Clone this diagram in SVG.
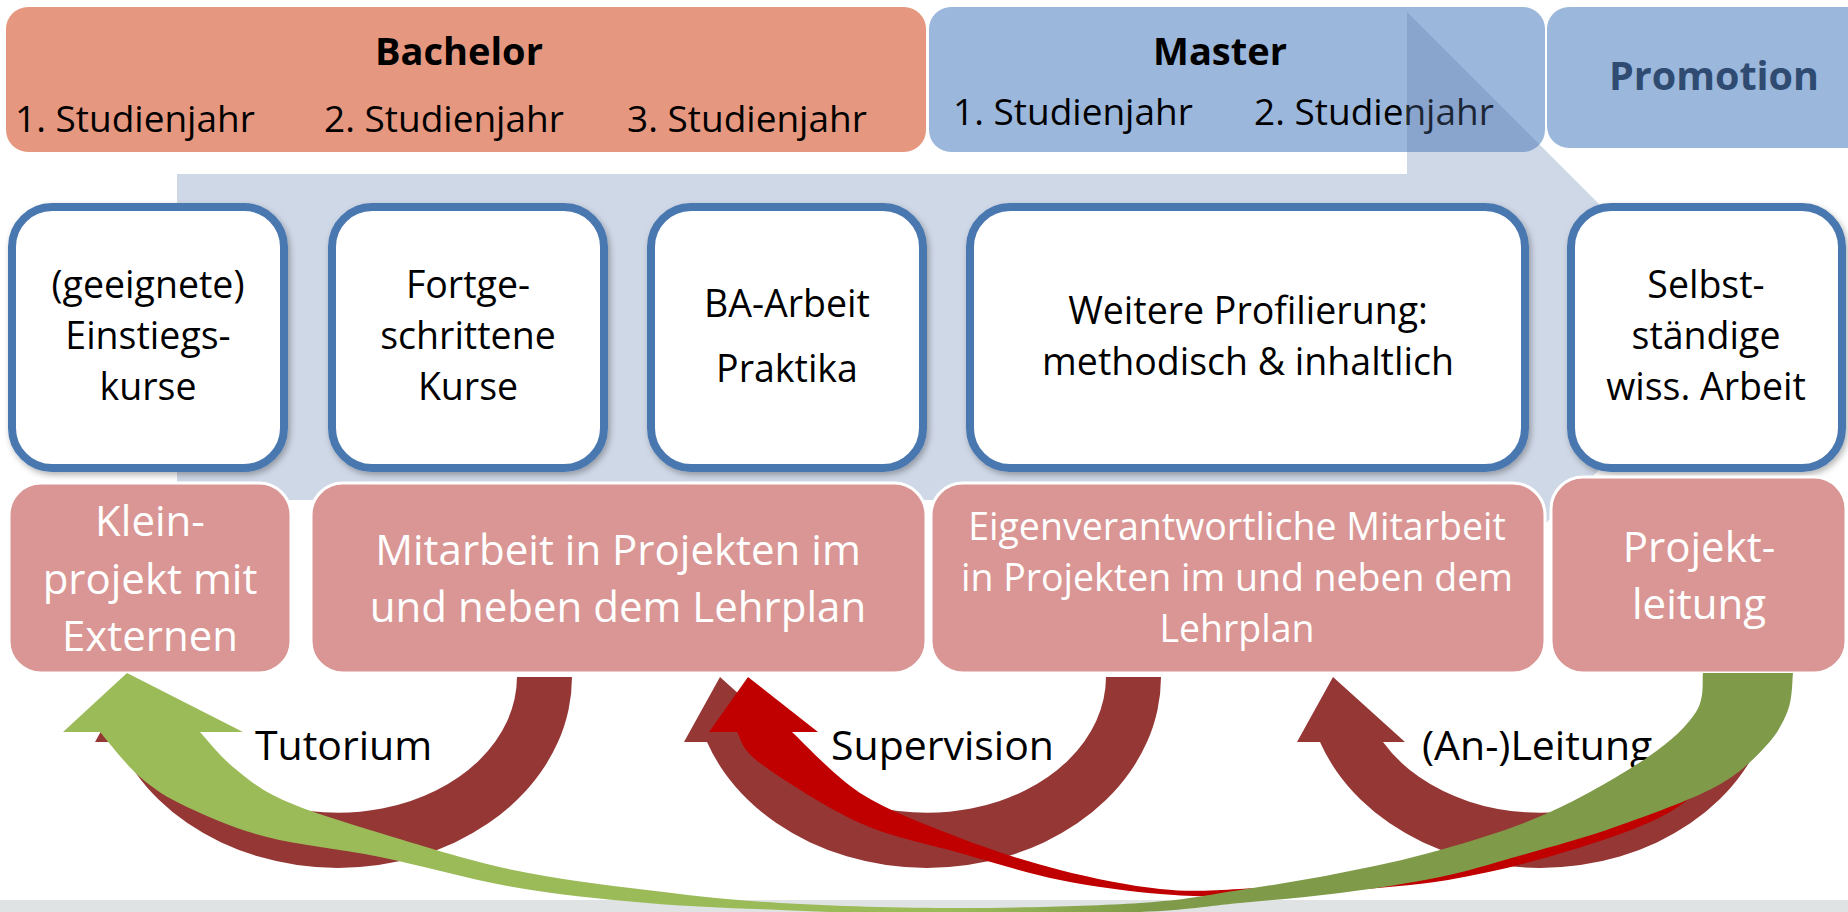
<svg xmlns="http://www.w3.org/2000/svg" width="1848" height="912" viewBox="0 0 1848 912">
<style>
text{font-family:"Open Sans","Liberation Sans",sans-serif;fill:#000}
.hb{font-size:38px;font-weight:bold}
.hy{font-size:37px}
.w{font-size:37.5px;text-anchor:middle}
.p{font-size:42px;fill:#fff;text-anchor:middle}
.e{font-size:37.5px;fill:#fff;text-anchor:middle}
.l{font-size:41px}
.wbox{fill:#fff;stroke:#4A77AF;stroke-width:8}
.pbox{fill:#D99694;stroke:#fff;stroke-width:3}
.dr{fill:#953735}
</style>
<defs>
<filter id="sh" x="-10%" y="-10%" width="120%" height="120%">
<feDropShadow dx="2" dy="3" stdDeviation="3" flood-color="#000" flood-opacity="0.3"/>
</filter>
<linearGradient id="gg" gradientUnits="userSpaceOnUse" x1="950" y1="0" x2="1150" y2="0">
<stop offset="0" stop-color="#9BBB59"/>
<stop offset="1" stop-color="#7F9A48"/>
</linearGradient>
</defs>
<rect x="0" y="0" width="1848" height="912" fill="#fff"/>
<rect x="0" y="900" width="1848" height="12" fill="#DFE3E3"/>

<g id="bachelor">
<rect x="6" y="7" width="920" height="145" rx="22" fill="#E5987F"/>
<text class="hb" x="459" y="65" text-anchor="middle">Bachelor</text>
<text class="hy" x="15" y="132">1. Studienjahr</text>
<text class="hy" x="324" y="132">2. Studienjahr</text>
<text class="hy" x="627" y="132">3. Studienjahr</text>
</g>
<g id="master">
<rect x="929" y="7" width="616" height="145" rx="22" fill="#9BB7DB"/>
<text class="hb" x="1220" y="65" text-anchor="middle">Master</text>
<text class="hy" x="953" y="125">1. Studienjahr</text>
<text class="hy" x="1254" y="125">2. Studienjahr</text>
</g>
<g id="promotion">
<rect x="1547" y="7" width="330" height="141" rx="22" fill="#9BB7DB"/>
<text class="hb" x="1714" y="90" text-anchor="middle" style="fill:#2F4B71;font-size:39.5px">Promotion</text>
</g>

<g id="band">
<polygon points="177,174 1407,174 1407,12 1732,337 1407,662 1407,500 177,500" fill="#5F7DAF" fill-opacity="0.3"/>
</g>

<g id="box-einstieg">
<rect class="wbox" x="12" y="207" width="272" height="261" rx="40" filter="url(#sh)"/>
<text class="w"><tspan x="148" y="298">(geeignete)</tspan><tspan x="148" y="349">Einstiegs-</tspan><tspan x="148" y="400">kurse</tspan></text>
</g>
<g id="box-fortgeschritten">
<rect class="wbox" x="332" y="207" width="272" height="261" rx="40" filter="url(#sh)"/>
<text class="w"><tspan x="468" y="298">Fortge-</tspan><tspan x="468" y="349">schrittene</tspan><tspan x="468" y="400">Kurse</tspan></text>
</g>
<g id="box-ba">
<rect class="wbox" x="651" y="207" width="272" height="261" rx="40" filter="url(#sh)"/>
<text class="w"><tspan x="787" y="317">BA-Arbeit</tspan><tspan x="787" y="382">Praktika</tspan></text>
</g>
<g id="box-profil">
<rect class="wbox" x="970" y="207" width="555" height="261" rx="40" filter="url(#sh)"/>
<text class="w"><tspan x="1248" y="324">Weitere Profilierung:</tspan><tspan x="1248" y="375">methodisch &amp; inhaltlich</tspan></text>
</g>
<g id="box-selbst">
<rect class="wbox" x="1571" y="207" width="271" height="261" rx="40" filter="url(#sh)"/>
<text class="w"><tspan x="1706" y="298">Selbst-</tspan><tspan x="1706" y="349">ständige</tspan><tspan x="1706" y="400">wiss. Arbeit</tspan></text>
</g>

<g id="p-klein">
<rect class="pbox" x="9" y="483" width="282" height="190" rx="32"/>
<text class="p"><tspan x="150" y="536">Klein-</tspan><tspan x="150" y="594">projekt mit</tspan><tspan x="150" y="651">Externen</tspan></text>
</g>
<g id="p-mitarbeit">
<rect class="pbox" x="311" y="483" width="615" height="190" rx="32"/>
<text class="p"><tspan x="618" y="565">Mitarbeit in Projekten im</tspan><tspan x="618" y="622">und neben dem Lehrplan</tspan></text>
</g>
<g id="p-eigen">
<rect class="pbox" x="931" y="483" width="614" height="190" rx="32"/>
<text class="e"><tspan x="1237" y="540">Eigenverantwortliche Mitarbeit</tspan><tspan x="1237" y="591">in Projekten im und neben dem</tspan><tspan x="1237" y="642">Lehrplan</tspan></text>
</g>
<g id="p-projekt">
<rect class="pbox" x="1551" y="477" width="295" height="196" rx="32"/>
<text class="p"><tspan x="1699" y="562">Projekt-</tspan><tspan x="1699" y="619">leitung</tspan></text>
</g>

<g id="connectors">
<path class="dr" d="M 517,677 L 572,677 A 234 191 0 0 1 118,742 L 95,742 L 131,677 L 203,742 L 181,742 A 179 136 0 0 0 517,677 Z"/>
<path class="dr" d="M 1106,677 L 1161,677 A 234 191 0 0 1 707,742 L 684,742 L 720,677 L 792,742 L 770,742 A 179 136 0 0 0 1106,677 Z"/>
<path class="dr" d="M 1719,677 L 1774,677 A 234 191 0 0 1 1320,742 L 1297,742 L 1333,677 L 1405,742 L 1383,742 A 179 136 0 0 0 1719,677 Z"/>
<text class="l" x="255" y="760">Tutorium</text>
<text class="l" x="831" y="760">Supervision</text>
<text class="l" x="1422" y="760">(An-)Leitung</text>
<path fill="#C00000" d="M 737,732 C 740.8,737.2 739.5,747.8 760,763 C 780.5,778.2 826.7,808 860,823 C 893.3,838 926.7,843.5 960,853 C 993.3,862.5 1026.7,873.2 1060,880 C 1093.3,886.8 1130,891.3 1160,894 C 1190,896.7 1210,896.5 1240,896 C 1270,895.5 1305.3,893.7 1340,891 C 1374.7,888.3 1413.3,885.7 1448,880 C 1482.7,874.3 1514.7,866.5 1548,857 C 1581.3,847.5 1622.7,834.2 1648,823 C 1673.3,811.8 1683,803.8 1700,790 C 1717,776.2 1738,755 1750,740 C 1762,725 1767.3,710.5 1772,700 C 1776.7,689.5 1777,680.8 1778,677 L 1720,677 C 1717.5,683.3 1716.7,698.7 1705,715 C 1693.3,731.3 1674.2,755.8 1650,775 C 1625.8,794.2 1595,815.5 1560,830 C 1525,844.5 1476.7,853.7 1440,862 C 1403.3,870.3 1373.3,875.5 1340,880 C 1306.7,884.5 1270,887.5 1240,889 C 1210,890.5 1190,892.2 1160,889 C 1130,885.8 1093.3,878.5 1060,870 C 1026.7,861.5 993.3,850.8 960,838 C 926.7,825.2 888,810.7 860,793 C 832,774 803.3,742.2 792,732 L 818,732 L 748,677 L 709,732 Z"/>
<path fill="url(#gg)" d="M 100,732 C 107,740 125.5,764.5 140,777 C 154.5,789.5 165.8,797 187,807 C 208.2,817 234.8,828.7 267,837 C 299.2,845.3 339,848.7 380,857 C 421,865.3 468.5,879.3 513,887 C 557.5,894.7 602.5,899.2 647,903 C 691.5,906.8 729.5,908 780,910 C 830.5,912 890,914.7 950,915 C 1010,915.3 1091.7,914 1140,912 C 1188.3,910 1206.7,906.2 1240,903 C 1273.3,899.8 1306.7,897.3 1340,893 C 1373.3,888.7 1410.8,883 1440,877 C 1469.2,871 1485.8,865.3 1515,857 C 1544.2,848.7 1581.7,838.7 1615,827 C 1648.3,815.3 1690,800.3 1715,787 C 1740,773.7 1752.8,759.8 1765,747 C 1777.2,734.2 1783.3,722.3 1788,710 C 1792.7,697.7 1792.2,679.2 1793,673 L 1703,673 C 1701.8,679.5 1705.2,698 1696,712 C 1686.8,726 1672.7,740.2 1648,757 C 1623.3,773.8 1582.7,797.5 1548,813 C 1513.3,828.5 1474.7,840 1440,850 C 1405.3,860 1373.3,866.3 1340,873 C 1306.7,879.7 1273.3,885 1240,890 C 1206.7,895 1186.7,900 1140,903 C 1093.3,906 1020,908 960,908 C 900,908 832.2,906 780,903 C 727.8,900 691.5,895.5 647,890 C 602.5,884.5 557.5,879.5 513,870 C 468.5,860.5 418.3,844.7 380,833 C 341.7,821.3 307.5,811 283,800 C 258.5,789 246.8,778.3 233,767 C 219.2,755.7 205.5,737.8 200,732 L 243,732 L 127,673 L 63,732 Z"/>
</g>
</svg>
